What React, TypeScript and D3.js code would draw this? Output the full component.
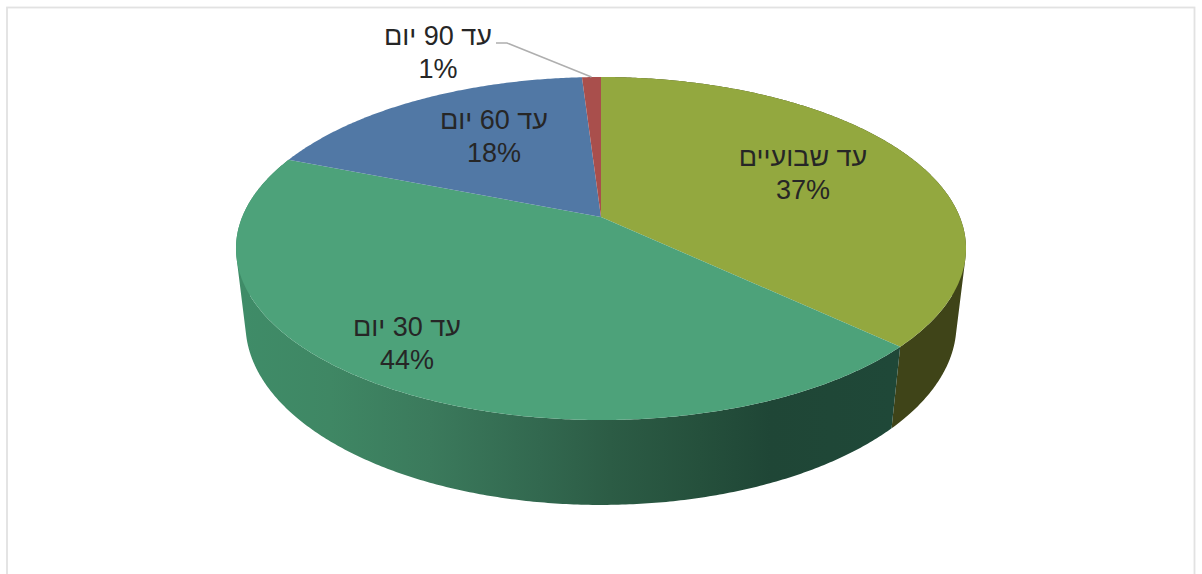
import React, { useMemo } from "react";
import * as d3 from "d3";

const categories = ["עד שבועיים", "עד 30 יום", "עד 60 יום", "עד 90 יום"];
const shares = [37, 44, 18, 1];
const topColors = ["#93a83f", "#4da27a", "#5178a5", "#a94f4c"];

const WIDTH = 1202;
const HEIGHT = 574;
const SAMPLES_PER_TURN = 720;

// Perspective camera for a cylinder of unit radius; h = 0 is the lid, h = 1 the base.
const camera = { cx: 601, sx: 358.8, sy: 125.86, y0: 217, tilt: -0.1837, depthW: 0.0259, depthY: 82.4 };

function project(theta: number, h: number): [number, number] {
  const u = Math.sin(theta);
  const v = -Math.cos(theta);
  const w = 1 + camera.tilt * v + camera.depthW * h;
  return [camera.cx + (camera.sx * u) / w, (camera.sy * v + camera.y0 + camera.depthY * h) / w];
}

function rimAngles(a0: number, a1: number): number[] {
  const n = Math.max(2, Math.ceil(((a1 - a0) / (2 * Math.PI)) * SAMPLES_PER_TURN));
  return d3.range(n + 1).map((i) => a0 + ((a1 - a0) * i) / n);
}

const line = d3.line<[number, number]>().curve(d3.curveLinear);

// The wall is a run of narrow quads, each taken as a hull so that all wind alike
// and the silhouette keeps its straight tangent between lid and base.
function wallPath(a0: number, a1: number): string {
  const angles = rimAngles(a0, a1);
  return d3
    .pairs(angles)
    .map(([t0, t1]) => {
      const hull = d3.polygonHull([project(t0, 0), project(t1, 0), project(t1, 1), project(t0, 1)]);
      return hull ? line(hull as [number, number][]) + "Z" : "";
    })
    .join("");
}

export default function App() {
  const arcs = useMemo(
    () => d3.pie<number>().sort(null).value((d) => d)(shares),
    []
  );

  const wallGradientX = d3.scaleLinear().domain([240, 892]).range([0, 1]);
  const greenWallStops: [number, string][] = [
    [240, "#3f8c68"],
    [330, "#3f8764"],
    [430, "#3b7a5c"],
    [540, "#32684f"],
    [610, "#2c5c45"],
    [700, "#25503c"],
    [770, "#1f4636"],
    [892, "#1f4838"],
  ];

  // The smallest slice's label sits outside the disc and takes a leader.
  const labels = [
    { x: 803, y: 166, i: 0 },
    { x: 407, y: 336, i: 1 },
    { x: 494, y: 129, i: 2 },
    { x: 438, y: 45, i: 3 },
  ];

  return (
    <svg
      width={WIDTH}
      height={HEIGHT}
      style={{ position: "absolute", left: 0, top: 0, background: "#fff", display: "block" }}
    >
      <defs>
        <linearGradient id="green-wall" gradientUnits="userSpaceOnUse" x1={240} x2={892} y1={0} y2={0}>
          {greenWallStops.map(([x, c]) => (
            <stop key={x} offset={wallGradientX(x)} stopColor={c} />
          ))}
        </linearGradient>
      </defs>

      <rect x={7} y={7.5} width={1187.5} height={600} fill="#fff" stroke="#e2e2e2" strokeWidth={1.8} />

      {/* Side wall, front slices only; the lid hides whatever runs behind it. */}
      {arcs.slice(0, 2).map((a, i) => (
        <path key={i} d={wallPath(a.startAngle, a.endAngle)} fill={i === 0 ? "#3f4418" : "url(#green-wall)"} />
      ))}

      {/* Lid */}
      {arcs.map((a, i) => {
        const rim = rimAngles(a.startAngle, a.endAngle).map((t) => project(t, 0));
        const apex: [number, number] = [camera.cx, camera.y0];
        return <path key={i} d={line([apex, ...rim]) + "Z"} fill={topColors[i]} />;
      })}

      {/* Leader from the outside label to its slice */}
      <path
        d={
          line([
            [496, 43],
            [507, 43],
            project((arcs[3].startAngle + arcs[3].endAngle) / 2, 0),
          ]) ?? ""
        }
        fill="none"
        stroke="#afafaf"
        strokeWidth={1.5}
      />

      {labels.map(({ x, y, i }) => (
        <text
          key={i}
          x={x}
          y={y}
          textAnchor="middle"
          fontFamily="'Liberation Sans', 'DejaVu Sans', sans-serif"
          fontSize={27}
          fill="#262626"
        >
          <tspan x={x} style={{ direction: "rtl", unicodeBidi: "plaintext" }}>
            {categories[i]}
          </tspan>
          <tspan x={x} dy={32.5}>
            {shares[i]}%
          </tspan>
        </text>
      ))}
    </svg>
  );
}
